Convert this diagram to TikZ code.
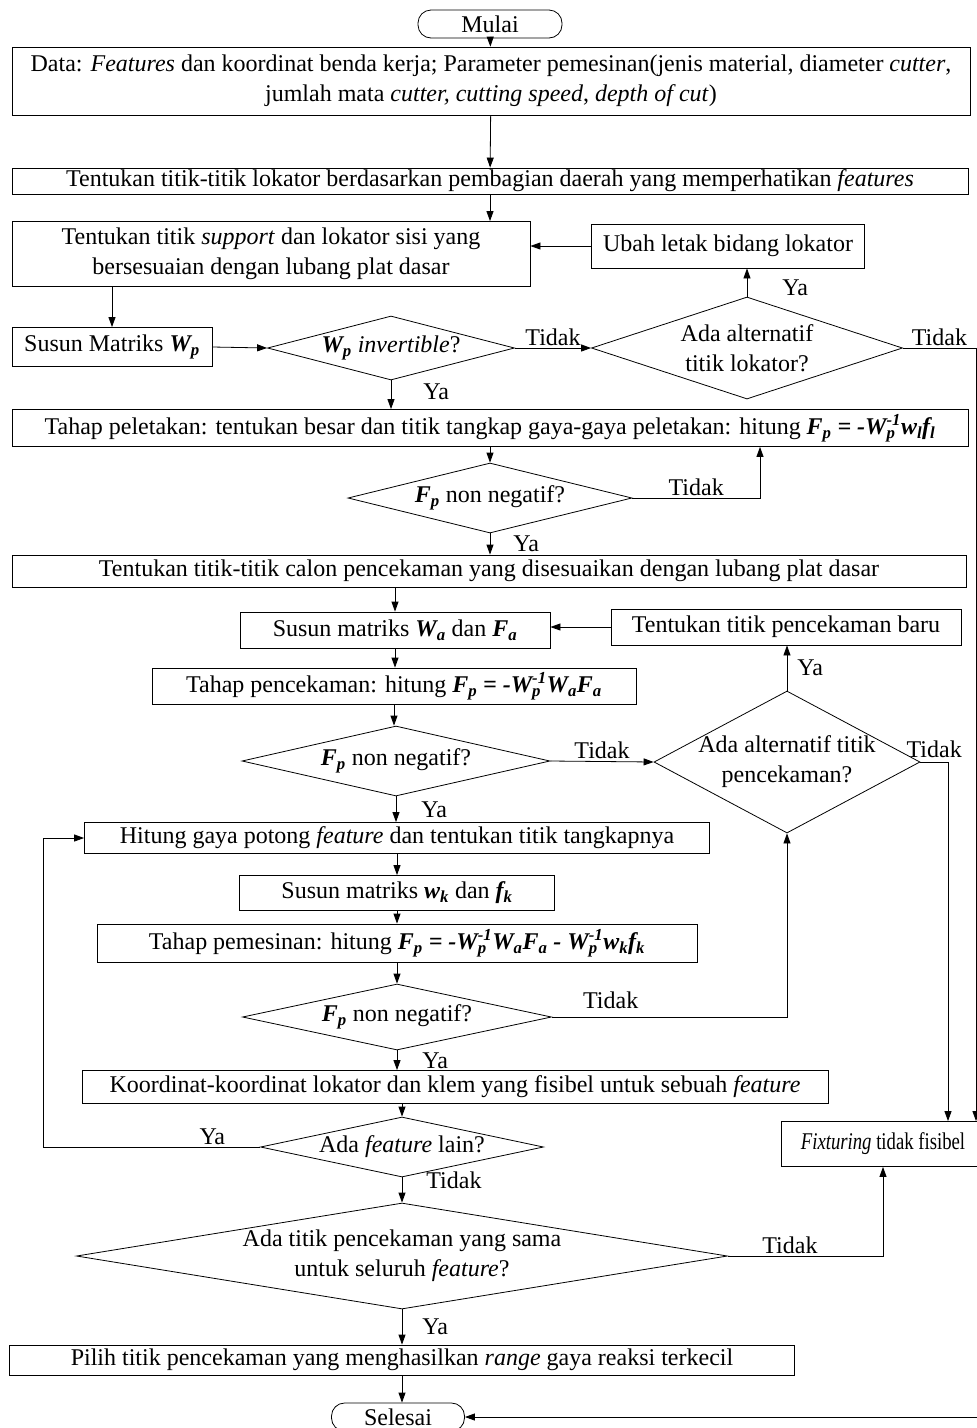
\documentclass[tikz,border=0pt]{standalone}
\usepackage{fontspec}
\setmainfont{Liberation Serif}
\usetikzlibrary{arrows.meta,positioning,shapes.geometric}
\newcommand{\bi}[1]{\textbf{\textit{#1}}}
\newcommand{\pinv}{\rlap{\textsubscript{p}}\textsuperscript{-1}}
\tikzset{
  txt/.style={font=\fontsize{24}{30}\selectfont,text=black},
  box/.style={draw,line width=0.8pt,inner sep=0pt,align=center,txt},
  term/.style={box,rounded corners=13pt},
  decision/.style={draw,line width=0.8pt,diamond,inner sep=0pt,txt},
  arr/.style={line width=0.8pt,-{Triangle[length=10pt,width=7pt]}},
  lbl/.style={txt,inner sep=2pt}
}

\begin{document}
\begin{tikzpicture}[x=1pt,y=-1pt]
  \useasboundingbox (0,0) rectangle (977,1428);
  % process boxes
  \node[term,minimum width=144pt,minimum height=28pt] (start) at (490,24) {Mulai};
  \node[box,minimum width=958pt,minimum height=68pt] (data) at (491,81)
    {Data: \textit{Features} dan koordinat benda kerja; Parameter pemesinan(jenis material, diameter \textit{cutter},\\
     jumlah mata \textit{cutter, cutting speed}, \textit{depth of cut})};
  \node[box,minimum width=956pt,minimum height=26pt] (lok) at (490,181)
    {Tentukan titik-titik lokator berdasarkan pembagian daerah yang memperhatikan \textit{features}};
  \node[box,minimum width=518pt,minimum height=65pt] (sup) at (271,254)
    {Tentukan titik \textit{support} dan lokator sisi yang\\ bersesuaian dengan lubang plat dasar};
  \node[box,minimum width=273pt,minimum height=44pt] (ubah) at (728,246) {Ubah letak bidang lokator};
  \node[box,minimum width=200pt,minimum height=39pt] (wp) at (112,347) {Susun Matriks \bi{W\textsubscript{p}}};
  \node[decision,minimum width=247pt,minimum height=64pt,
        label={[txt]center:\bi{W\textsubscript{p}} \textit{invertible}?}] (inv) at (391,348) {};
  \node[decision,minimum width=311pt,minimum height=102pt,
        label={[txt,align=center]center:Ada alternatif\\ titik lokator?}] (alt1) at (747,348) {};
  \node[box,minimum width=956pt,minimum height=37pt] (pel) at (490,428)
    {Tahap peletakan: tentukan besar dan titik tangkap gaya-gaya peletakan: hitung
     \bi{F\textsubscript{p} = -W\pinv w\textsubscript{l}f\textsubscript{l}}};
  \node[decision,minimum width=284pt,minimum height=70pt,
        label={[txt]center:\bi{F\textsubscript{p}} non negatif?}] (fp1) at (490,498) {};
  \node[box,minimum width=954pt,minimum height=32pt] (calon) at (489,571)
    {Tentukan titik-titik calon pencekaman yang disesuaikan dengan lubang plat dasar};
  \node[box,minimum width=310pt,minimum height=36pt] (wa) at (395,630)
    {Susun matriks \bi{W\textsubscript{a}} dan \bi{F\textsubscript{a}}};
  \node[box,minimum width=350pt,minimum height=36pt] (baru) at (786,627) {Tentukan titik pencekaman baru};
  \node[box,minimum width=484pt,minimum height=36pt] (pen) at (394,686)
    {Tahap pencekaman: hitung \bi{F\textsubscript{p} = -W\pinv W\textsubscript{a}F\textsubscript{a}}};
  \node[decision,minimum width=308pt,minimum height=70pt,
        label={[txt]center:\bi{F\textsubscript{p}} non negatif?}] (fp2) at (396,761) {};
  \node[decision,minimum width=266pt,minimum height=142pt,
        label={[txt,align=center]center:Ada alternatif titik\\ pencekaman?}] (alt2) at (787,762) {};
  \node[box,minimum width=625pt,minimum height=31pt] (gaya) at (397,838)
    {Hitung gaya potong \textit{feature} dan tentukan titik tangkapnya};
  \node[box,minimum width=315pt,minimum height=35pt] (wk) at (397,893)
    {Susun matriks \bi{w\textsubscript{k}} dan \bi{f\textsubscript{k}}};
  \node[box,minimum width=600pt,minimum height=38pt] (mes) at (397,943)
    {Tahap pemesinan: hitung \bi{F\textsubscript{p} = -W\pinv W\textsubscript{a}F\textsubscript{a} - W\pinv w\textsubscript{k}f\textsubscript{k}}};
  \node[decision,minimum width=309pt,minimum height=66pt,
        label={[txt]center:\bi{F\textsubscript{p}} non negatif?}] (fp3) at (397,1017) {};
  \node[box,minimum width=746pt,minimum height=33pt] (kor) at (455,1087)
    {Koordinat-koordinat lokator dan klem yang fisibel untuk sebuah \textit{feature}};
  \node[decision,minimum width=283pt,minimum height=60pt,
        label={[txt]center:Ada \textit{feature} lain?}] (lain) at (402,1147) {};
  \node[box,minimum width=204pt,minimum height=45pt] (fix) at (883,1144)
    {\scalebox{0.78}[1]{\textit{Fixturing} tidak fisibel}};
  \node[decision,minimum width=651pt,minimum height=106pt,
        label={[txt,align=center]center:Ada titik pencekaman yang sama\\ untuk seluruh \textit{feature}?}] (sama) at (402,1256) {};
  \node[box,minimum width=785pt,minimum height=30pt] (pilih) at (402,1360)
    {Pilih titik pencekaman yang menghasilkan \textit{range} gaya reaksi terkecil};
  \node[term,minimum width=133pt,minimum height=28pt] (stop) at (398,1417) {Selesai};

  % bend points
  \coordinate (r1) at (976,348);
  \coordinate (r2) at (760,498);
  \coordinate (r3) at (948,762);
  \coordinate (r4) at (787,1017);
  \coordinate (r5) at (43,1147);

  % connectors
  \draw[arr] (start) -- (data);
  \draw[arr] (data) -- (lok);
  \draw[arr] (lok.south) -- (lok.south |- sup.north);
  \draw[arr] (sup.south -| wp.north) -- (wp.north);
  \draw[arr] (wp.east) -- (inv.west);
  \draw[arr] (inv.east) -- node[lbl,above] (n1) {Tidak} (alt1.west);
  \draw[arr] (alt1.north) -- node[lbl,right=33pt,pos=0.3] (n2) {Ya} (alt1.north |- ubah.south);
  \draw[arr] (ubah.west) -- (ubah.west -| sup.east);
  \draw[arr] (alt1.east) -- node[lbl,above] (n3) {Tidak} (r1) -- (r1 |- fix.north);
  \draw[arr] (inv.south) -- node[lbl,right=30pt,pos=0.4] (n4) {Ya} (inv.south |- pel.north);
  \draw[arr] (pel.south) -- (fp1.north);
  \draw[arr] (fp1.east) -- node[lbl,above] (n5) {Tidak} (r2) -- (r2 |- pel.south);
  \draw[arr] (fp1.south) -- node[lbl,right=21pt] (n6) {Ya} (fp1.south |- calon.north);
  \draw[arr] (calon.south -| wa.north) -- (wa.north);
  \draw[arr] (baru.west) -- (baru.west -| wa.east);
  \draw[arr] (wa.south) -- (wa.south |- pen.north);
  \draw[arr] (pen.south) -- (pen.south |- fp2.north);
  \draw[arr] (fp2.east) -- node[lbl,above] (n7) {Tidak} (alt2.west);
  \draw[arr] (alt2.north) -- node[lbl,right=8pt] (n8) {Ya} (alt2.north |- baru.south);
  \draw[arr] (alt2.east) -- node[lbl,above=2pt] (n9) {Tidak} (r3) -- (r3 |- fix.north);
  \draw[arr] (fp2.south) -- node[lbl,right=23pt] (n10) {Ya} (fp2.south |- gaya.north);
  \draw[arr] (gaya.south) -- (wk.north);
  \draw[arr] (wk.south) -- (mes.north);
  \draw[arr] (mes.south) -- (fp3.north);
  \draw[arr] (fp3.east) -- node[lbl,above=6pt,pos=0.25] (n11) {Tidak} (r4) -- (alt2.south);
  \draw[arr] (fp3.south) -- node[lbl,right=23pt] (n12) {Ya} (fp3.south |- kor.north);
  \draw[arr] (kor.south -| lain.north) -- (lain.north);
  \draw[arr] (lain.west) -- node[lbl,above,pos=0.22] (n13) {Ya} (r5) |- (gaya.west);
  \draw[arr] (lain.south) -- node[lbl,right=22pt,pos=0.1] (n14) {Tidak} (sama.north);
  \draw[arr] (sama.east) -| node[lbl,above,pos=0.2] (n15) {Tidak} (fix.south);
  \draw[arr] (sama.south) -- node[lbl,right=18pt] (n16) {Ya} (pilih.north);
  \draw[arr] (pilih.south) -- (pilih.south |- stop.north);
  \draw[arr] (fix.east) -- ++(10,0) |- (stop.east);
\end{tikzpicture}
\end{document}
